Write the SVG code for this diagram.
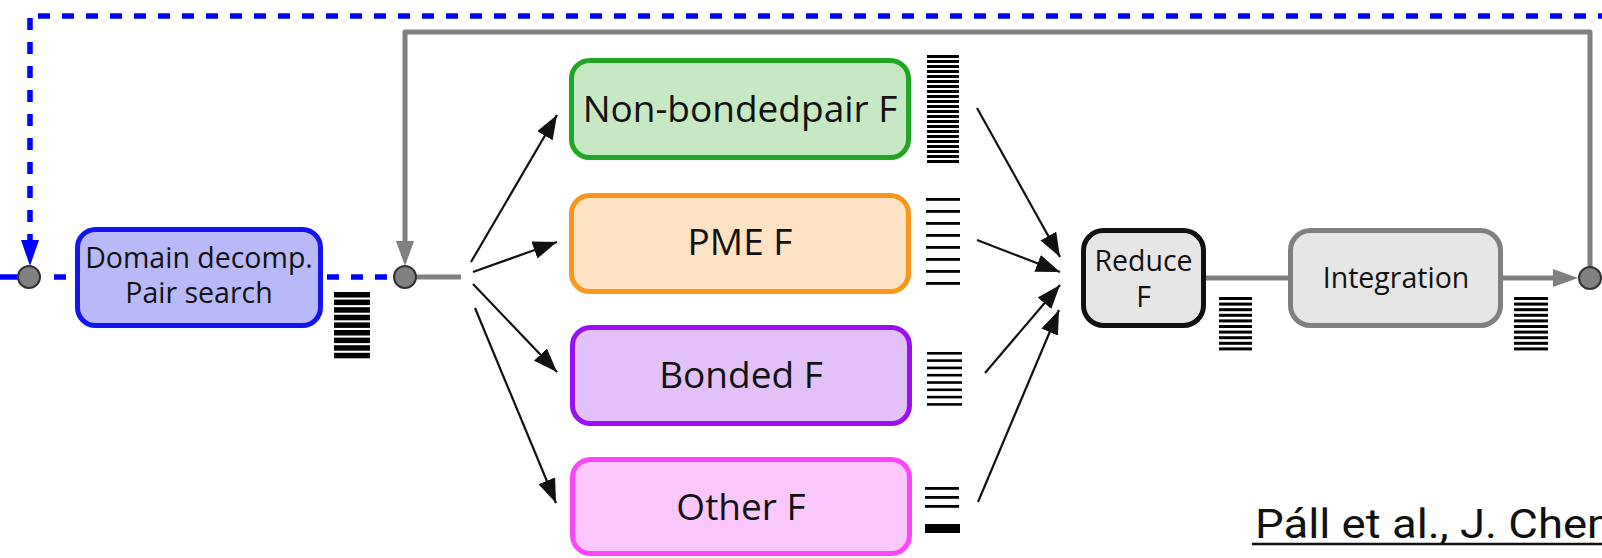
<svg xmlns="http://www.w3.org/2000/svg" width="1602" height="558" viewBox="0 0 1602 558">
  <style>
    .box { stroke-width: 5; }
    .lbl { font-family: "Open Sans", "DejaVu Sans", sans-serif; fill: #111; text-anchor: middle; }
    .big { font-size: 37px; }
    .small { font-size: 28.5px; }
    .gray { stroke: #808080; stroke-width: 5; fill: none; }
    .blue { stroke: #0000ff; stroke-width: 5.5; fill: none; stroke-dasharray: 12 12; }
    .flow { stroke: #111; stroke-width: 2.2; fill: none; marker-end: url(#ah); }
    .dot { fill: #808080; stroke: #333; stroke-width: 2; }
    .bar { fill: #000; }
  </style>
  <defs>
    <marker id="ah" markerUnits="userSpaceOnUse" markerWidth="26" markerHeight="20" refX="24" refY="9" orient="auto">
      <path d="M0,0 L24,9 L0,18 Z" fill="#111"/>
    </marker>
  </defs>

  <rect width="1602" height="558" fill="#fff"/>

  <!-- connectors -->
  <g id="connectors">
    <!-- outer dashed loop (blue) -->
    <line class="blue" x1="38" y1="16" x2="1602" y2="16"/>
    <line class="blue" x1="30" y1="18" x2="30" y2="244"/>
    <polygon points="30,266 21,240 39,240" fill="#0000ff"/>
    <line class="blue" x1="0" y1="277" x2="18" y2="277" style="stroke-dasharray:none"/>
    <line class="blue" x1="54" y1="277" x2="66" y2="277" style="stroke-dasharray:none"/>
    <line class="blue" x1="327" y1="277" x2="394" y2="277" style="stroke-dasharray:12 12"/>

    <!-- inner loop (gray) -->
    <path class="gray" d="M1590,278 V32 H405 V246" stroke-linejoin="round"/>
    <polygon points="405,266 396,241 414,241" fill="#808080"/>
    <line class="gray" x1="405" y1="277" x2="461" y2="277"/>
    <line class="gray" x1="1206" y1="278" x2="1290" y2="278"/>
    <line class="gray" x1="1503" y1="278" x2="1558" y2="278"/>
    <polygon points="1578,278 1553,269 1553,287" fill="#808080"/>

    <!-- fan out -->
    <line class="flow" x1="471" y1="262" x2="557" y2="115"/>
    <line class="flow" x1="473" y1="272" x2="557" y2="242"/>
    <line class="flow" x1="473" y1="284" x2="557" y2="372"/>
    <line class="flow" x1="475" y1="308" x2="556" y2="503"/>

    <!-- fan in -->
    <line class="flow" x1="977" y1="108" x2="1060" y2="257"/>
    <line class="flow" x1="977" y1="240" x2="1060" y2="272"/>
    <line class="flow" x1="985" y1="373" x2="1060" y2="285"/>
    <line class="flow" x1="978" y1="502" x2="1059" y2="310"/>

    <circle class="dot" cx="29" cy="277" r="11"/>
    <circle class="dot" cx="405" cy="277" r="11"/>
    <circle class="dot" cx="1590" cy="278" r="11"/>
  </g>

  <!-- domain decomposition / pair search -->
  <g id="domain">
    <rect class="box" x="77.5" y="229.5" width="243" height="96" rx="18" fill="#b9b9f8" stroke="#1414f0"/>
    <text class="lbl small" x="199" y="268">Domain decomp.</text>
    <text class="lbl small" x="199" y="303">Pair search</text>
    <g class="bar">
      <rect x="334" y="292" width="36" height="5.5"/>
      <rect x="334" y="299.6" width="36" height="5.5"/>
      <rect x="334" y="307.2" width="36" height="5.5"/>
      <rect x="334" y="314.8" width="36" height="5.5"/>
      <rect x="334" y="322.4" width="36" height="5.5"/>
      <rect x="334" y="330" width="36" height="5.5"/>
      <rect x="334" y="337.6" width="36" height="5.5"/>
      <rect x="334" y="345.2" width="36" height="5.5"/>
      <rect x="334" y="352.8" width="36" height="5.5"/>
    </g>
  </g>

  <!-- non-bonded pair forces -->
  <g id="nonbonded">
    <rect class="box" x="571.5" y="60.5" width="337" height="97" rx="18" fill="#c6e8c2" stroke="#22a524"/>
    <text class="lbl big" x="740" y="122">Non-bondedpair F</text>
    <g class="bar">
      <rect x="927" y="55" width="32" height="3"/>
      <rect x="927" y="60" width="32" height="3"/>
      <rect x="927" y="65" width="32" height="3"/>
      <rect x="927" y="70" width="32" height="3"/>
      <rect x="927" y="75" width="32" height="3"/>
      <rect x="927" y="80" width="32" height="3"/>
      <rect x="927" y="85" width="32" height="3"/>
      <rect x="927" y="90" width="32" height="3"/>
      <rect x="927" y="95" width="32" height="3"/>
      <rect x="927" y="100" width="32" height="3"/>
      <rect x="927" y="105" width="32" height="3"/>
      <rect x="927" y="110" width="32" height="3"/>
      <rect x="927" y="115" width="32" height="3"/>
      <rect x="927" y="120" width="32" height="3"/>
      <rect x="927" y="125" width="32" height="3"/>
      <rect x="927" y="130" width="32" height="3"/>
      <rect x="927" y="135" width="32" height="3"/>
      <rect x="927" y="140" width="32" height="3"/>
      <rect x="927" y="145" width="32" height="3"/>
      <rect x="927" y="150" width="32" height="3"/>
      <rect x="927" y="155" width="32" height="3"/>
      <rect x="927" y="160" width="32" height="3"/>
    </g>
  </g>

  <!-- PME forces -->
  <g id="pme">
    <rect class="box" x="571.5" y="195.5" width="337" height="96" rx="18" fill="#fde2c4" stroke="#f7971c"/>
    <text class="lbl big" x="740" y="255">PME F</text>
    <g class="bar">
      <rect x="926" y="198" width="34" height="2.8"/>
      <rect x="926" y="210" width="34" height="2.8"/>
      <rect x="926" y="222" width="34" height="2.8"/>
      <rect x="926" y="234" width="34" height="2.8"/>
      <rect x="926" y="246" width="34" height="2.8"/>
      <rect x="926" y="258" width="34" height="2.8"/>
      <rect x="926" y="270" width="34" height="2.8"/>
      <rect x="926" y="282" width="34" height="2.8"/>
    </g>
  </g>

  <!-- bonded forces -->
  <g id="bonded">
    <rect class="box" x="572.5" y="327.5" width="337" height="96" rx="18" fill="#e1c1f8" stroke="#9a10f2"/>
    <text class="lbl big" x="741" y="388">Bonded F</text>
    <g class="bar">
      <rect x="927" y="352" width="35" height="2.6"/>
      <rect x="927" y="359.3" width="35" height="2.6"/>
      <rect x="927" y="366.6" width="35" height="2.6"/>
      <rect x="927" y="373.9" width="35" height="2.6"/>
      <rect x="927" y="381.2" width="35" height="2.6"/>
      <rect x="927" y="388.5" width="35" height="2.6"/>
      <rect x="927" y="395.8" width="35" height="2.6"/>
      <rect x="927" y="403.1" width="35" height="2.6"/>
    </g>
  </g>

  <!-- other forces -->
  <g id="other">
    <rect class="box" x="572.5" y="459.5" width="337" height="94" rx="18" fill="#fcc7fc" stroke="#fd45fd"/>
    <text class="lbl big" x="741" y="520">Other F</text>
    <g class="bar">
      <rect x="925" y="487" width="34" height="2.8"/>
      <rect x="925" y="496" width="34" height="2.8"/>
      <rect x="925" y="505" width="34" height="2.8"/>
      <rect x="925" y="524" width="35" height="9"/>
    </g>
  </g>

  <!-- force reduction -->
  <g id="reduce">
    <rect class="box" x="1083.5" y="230.5" width="120" height="95" rx="20" fill="#e6e6e6" stroke="#111"/>
    <text class="lbl small" x="1143.5" y="271">Reduce</text>
    <text class="lbl small" x="1143.5" y="307">F</text>
    <g class="bar">
      <rect x="1219" y="297" width="33" height="3"/>
      <rect x="1219" y="302.6" width="33" height="3"/>
      <rect x="1219" y="308.2" width="33" height="3"/>
      <rect x="1219" y="313.8" width="33" height="3"/>
      <rect x="1219" y="319.4" width="33" height="3"/>
      <rect x="1219" y="325" width="33" height="3"/>
      <rect x="1219" y="330.6" width="33" height="3"/>
      <rect x="1219" y="336.2" width="33" height="3"/>
      <rect x="1219" y="341.8" width="33" height="3"/>
      <rect x="1219" y="347.4" width="33" height="3"/>
    </g>
  </g>

  <!-- integration -->
  <g id="integration">
    <rect class="box" x="1290.5" y="230.5" width="210" height="95" rx="20" fill="#e6e6e6" stroke="#808080"/>
    <text class="lbl small" x="1396" y="288">Integration</text>
    <g class="bar">
      <rect x="1514" y="297" width="34" height="3"/>
      <rect x="1514" y="302.6" width="34" height="3"/>
      <rect x="1514" y="308.2" width="34" height="3"/>
      <rect x="1514" y="313.8" width="34" height="3"/>
      <rect x="1514" y="319.4" width="34" height="3"/>
      <rect x="1514" y="325" width="34" height="3"/>
      <rect x="1514" y="330.6" width="34" height="3"/>
      <rect x="1514" y="336.2" width="34" height="3"/>
      <rect x="1514" y="341.8" width="34" height="3"/>
      <rect x="1514" y="347.4" width="34" height="3"/>
    </g>
  </g>

  <!-- reference -->
  <g id="citation">
    <text x="1255" y="538" font-family="Roboto, 'Liberation Sans', sans-serif" font-size="41" fill="#111" textLength="372" lengthAdjust="spacingAndGlyphs">Páll et al., J. Chem</text>
    <line x1="1252" y1="544" x2="1602" y2="544" stroke="#111" stroke-width="2.5"/>
  </g>
</svg>
